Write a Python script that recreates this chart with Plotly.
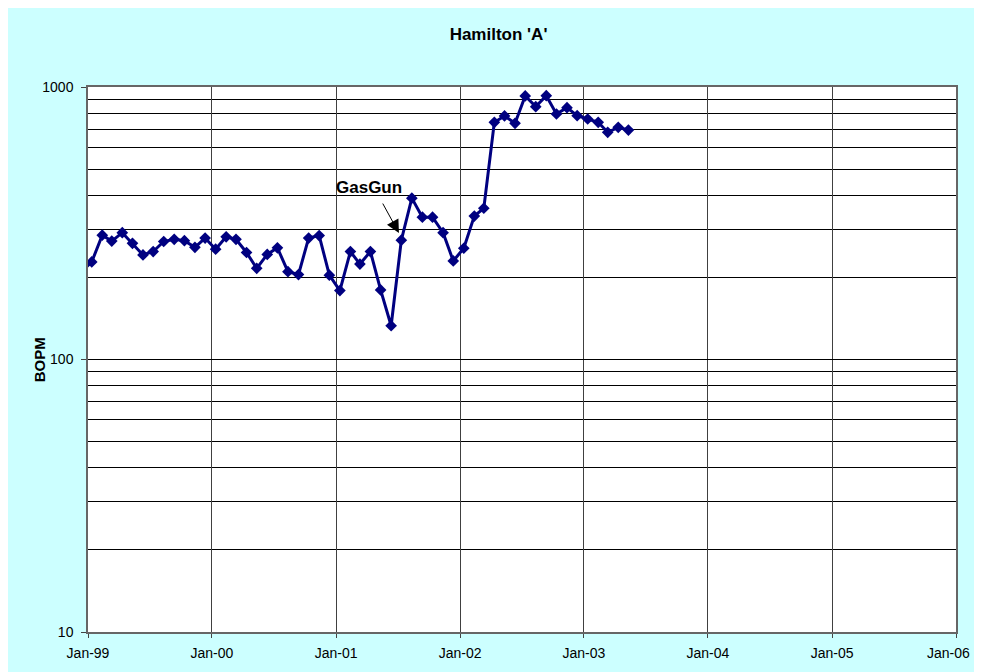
import plotly.graph_objects as go

# monthly production, Hamilton 'A' (barrels of oil per month)
dates = [
    "1998-12-12",
    "1999-01-12", "1999-02-12", "1999-03-12", "1999-04-12", "1999-05-12", "1999-06-12",
    "1999-07-12", "1999-08-12", "1999-09-12", "1999-10-12", "1999-11-12", "1999-12-12",
    "2000-01-12", "2000-02-12", "2000-03-12", "2000-04-12", "2000-05-12", "2000-06-12",
    "2000-07-12", "2000-08-12", "2000-09-12", "2000-10-12", "2000-11-12", "2000-12-12",
    "2001-01-12", "2001-02-12", "2001-03-12", "2001-04-12", "2001-05-12", "2001-06-12",
    "2001-07-12", "2001-08-12", "2001-09-12", "2001-10-12", "2001-11-12", "2001-12-12",
    "2002-01-12", "2002-02-12", "2002-03-12", "2002-04-12", "2002-05-12", "2002-06-12",
    "2002-07-12", "2002-08-12", "2002-09-12", "2002-10-12", "2002-11-12", "2002-12-12",
    "2003-01-12", "2003-02-12", "2003-03-12", "2003-04-12", "2003-05-12",
]
bopm = [
    210,
    228, 286, 272, 292, 267, 242, 249, 271, 276, 273, 258, 279,
    254, 282, 276, 247, 216, 243, 257, 210, 205, 279, 285, 204,
    179, 249, 224, 249, 180, 133, 274, 391, 333, 333, 292, 230,
    256, 336, 359, 742, 783, 736, 927, 847, 929, 796, 840, 785,
    763, 742, 682, 711, 695,
]

year_ticks = ["1999-01-01", "2000-01-01", "2001-01-01", "2002-01-01",
              "2003-01-01", "2004-01-01", "2005-01-01", "2006-01-01"]
year_labels = ["Jan-99", "Jan-00", "Jan-01", "Jan-02", "Jan-03", "Jan-04", "Jan-05", "Jan-06"]

major_y = [10, 100, 1000]
minor_y = [20, 30, 40, 50, 60, 70, 80, 90, 200, 300, 400, 500, 600, 700, 800, 900]

font = "Liberation Sans, Arial, sans-serif"
navy = "#000080"

fig = go.Figure()
fig.add_trace(go.Scatter(
    x=dates, y=bopm,
    mode="lines+markers",
    line=dict(color=navy, width=3),
    marker=dict(symbol="diamond", size=9, color=navy),
    showlegend=False,
))

# GasGun label and arrow (log axis: annotation y in log10 units)
fig.add_annotation(x="2001-04-08", y=2.631,
                   text="<b>GasGun</b>", showarrow=False,
                   font=dict(family=font, size=17, color="black"))
fig.add_annotation(x="2001-07-05", y=2.464,
                   text="", showarrow=True, ax=-17, ay=-31,
                   arrowhead=2, arrowsize=2.6, arrowwidth=1, arrowcolor="black",
                   standoff=0)

# y axis title
fig.add_annotation(xref="paper", yref="paper", x=-0.0676, y=0.5,
                   text="<b>BOPM</b>", textangle=-90, showarrow=False,
                   font=dict(family=font, size=15, color="black"))

# last year label would run past the figure edge, so pin it inside
tick_text = year_labels[:-1] + [""]
fig.add_annotation(xref="paper", yref="paper", x=1.0184, y=-0.0391,
                   xanchor="right", yanchor="middle",
                   text=year_labels[-1], showarrow=False,
                   font=dict(family=font, size=14, color="black"))

# page body adds an 8px margin, so keep the figure inside the window
fig.update_layout(
    width=966, height=664,
    margin=dict(l=80, r=18, t=79, b=40),
    paper_bgcolor="#CCFFFF",
    plot_bgcolor="white",
    font=dict(family=font, size=14, color="black"),
    title=dict(text="<b>Hamilton 'A'</b>", x=0.5078, xref="container",
               y=0.9608, yref="container", xanchor="center", yanchor="middle",
               font=dict(family=font, size=17, color="black")),
)

fig.update_xaxes(
    type="date",
    range=["1999-01-01", "2006-01-01"],
    tickmode="array", tickvals=year_ticks, ticktext=tick_text,
    ticks="outside", ticklen=4, tickcolor="#444", ticklabelstandoff=3,
    automargin=False,
    showgrid=True, gridcolor="#404040", gridwidth=1,
    showline=True, linecolor="#666", linewidth=1.5, mirror=True,
    zeroline=False,
)
fig.update_yaxes(
    type="log",
    range=[1, 3],
    tickmode="array", tickvals=major_y, ticktext=[str(v) for v in major_y],
    ticks="outside", ticklen=5, tickcolor="#444", ticklabelstandoff=5,
    automargin=False,
    showgrid=True, gridcolor="black", gridwidth=1,
    minor=dict(tickmode="array", tickvals=minor_y, showgrid=True,
               gridcolor="black", gridwidth=1, ticks=""),
    showline=True, linecolor="#666", linewidth=1.5, mirror=True,
    zeroline=False,
)

fig.write_html("out.html")
